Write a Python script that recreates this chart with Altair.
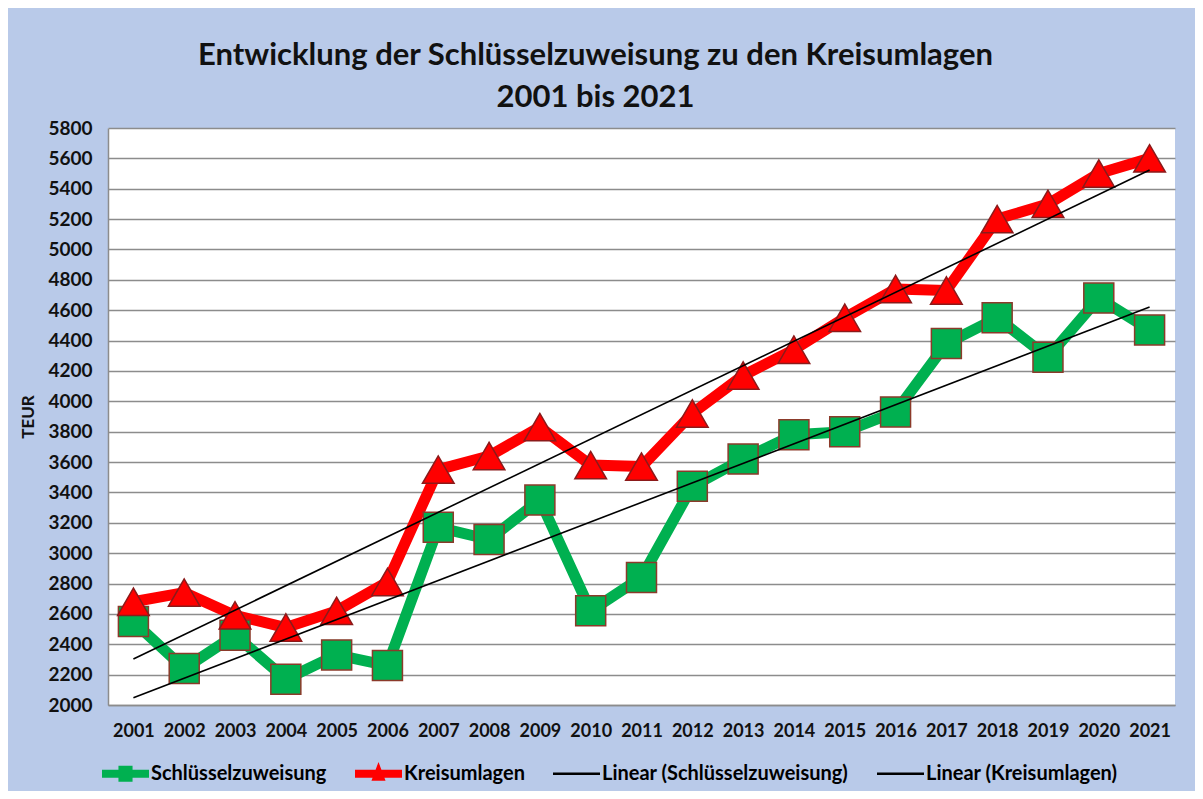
import altair as alt
import pandas as pd

years = list(range(2001, 2022))
schluesselzuweisung = [2550, 2240, 2460, 2170, 2330, 2260, 3170, 3090, 3350, 2620, 2840,
                       3440, 3620, 3780, 3800, 3930, 4380, 4550, 4290, 4680, 4470]
kreisumlagen = [2680, 2740, 2590, 2510, 2620, 2810, 3550, 3640, 3830, 3580, 3570,
                3920, 4170, 4340, 4550, 4740, 4730, 5200, 5300, 5500, 5600]

series_names = ["Schlüsselzuweisung", "Kreisumlagen",
                "Linear (Schlüsselzuweisung)", "Linear (Kreisumlagen)"]
series_colors = ["#00b050", "#ff0000", "#000000", "#000000"]
legend_shapes = [
    "M-1,-0.17H-0.3V-0.34H0.3V-0.17H1V0.17H0.3V0.34H-0.3V0.17H-1Z",
    "M-1,-0.17H1V0.17H-1Z M0,-0.5L0.3,0.3H-0.3Z",
    "M-1,-0.05H1V0.05H-1Z",
    "M-1,-0.05H1V0.05H-1Z",
]
y_ticks = list(range(2000, 5801, 200))

rows = []
for y, s, k in zip(years, schluesselzuweisung, kreisumlagen):
    rows.append({"year": y, "value": s, "series": "Schlüsselzuweisung"})
    rows.append({"year": y, "value": k, "series": "Kreisumlagen"})
df = pd.DataFrame(rows)

FONT = "Lato"

legend_props = dict(
    orient="none", legendX=-6, legendY=622, direction="horizontal",
    title=None, labelFont=FONT, labelFontWeight="bold", labelFontSize=20,
    labelColor="#000000", labelLimit=500, symbolSize=2209, labelOffset=2,
    columnPadding=28, symbolStrokeWidth=0, symbolOpacity=1,
)
color_scale = alt.Scale(domain=series_names, range=series_colors)

x = alt.X(
    "year:Q",
    scale=alt.Scale(domain=[2000.5, 2021.5], nice=False, zero=False),
    axis=alt.Axis(values=years, format="d", title=None, grid=False, ticks=False,
                  domainColor="#8c8c8c", domainWidth=1.5, labelPadding=17,
                  labelFont=FONT, labelFontWeight="bold", labelFontSize=18,
                  labelColor="#111111"),
)
y = alt.Y(
    "value:Q",
    scale=alt.Scale(domain=[2000, 5800], nice=False, zero=False),
    axis=alt.Axis(values=y_ticks, format="d", title="TEUR", grid=True, gridColor="#8c8c8c",
                  gridWidth=1.5, ticks=False, domainColor="#8c8c8c", domainWidth=1.5,
                  labelPadding=16, labelFont=FONT, labelFontWeight="bold",
                  labelFontSize=19, labelColor="#111111",
                  titleFont=FONT, titleFontWeight="bold", titleFontSize=17,
                  titleColor="#111111", titlePadding=10),
)

color_noleg = alt.Color("series:N", scale=color_scale, legend=None)

base = alt.Chart(df)

# invisible layer that only carries the legend (listed first so its legend wins)
legend_layer = base.mark_point(filled=True, opacity=0).encode(
    x=x, y=y,
    color=alt.Color("series:N", scale=color_scale, legend=alt.Legend(**legend_props)),
    shape=alt.Shape("series:N", scale=alt.Scale(domain=series_names, range=legend_shapes),
                    legend=alt.Legend(**legend_props)),
)

lines = base.mark_line(strokeWidth=11, strokeJoin="round").encode(
    x=x, y=y, color=color_noleg, detail="series:N"
)

squares = base.transform_filter(
    alt.datum.series == "Schlüsselzuweisung"
).mark_point(shape="square", filled=True, opacity=1, size=900,
             stroke="#8b3a2a", strokeWidth=1.5).encode(x=x, y=y, color=color_noleg)

triangles = base.transform_filter(
    alt.datum.series == "Kreisumlagen"
).mark_point(shape="triangle-up", filled=True, opacity=1, size=1000,
             stroke="#8b1a1a", strokeWidth=1.5).encode(x=x, y=y, color=color_noleg)

trends = base.transform_regression(
    "year", "value", groupby=["series"], extent=[2001, 2021]
).transform_calculate(
    series="'Linear (' + datum.series + ')'"
).mark_line(strokeWidth=1.6).encode(
    x=x, y=y, color=color_noleg
)

chart = alt.layer(legend_layer, lines, squares, triangles, trends).properties(
    width=1067, height=577,
    autosize=alt.AutoSizeParams(type="none"),
    padding={"left": 100, "top": 120, "right": 20, "bottom": 86},
    background="#b9cae9",
    title=alt.TitleParams(
        ["Entwicklung der Schlüsselzuweisung zu den Kreisumlagen", "2001 bis 2021"],
        font=FONT, fontWeight="bold", fontSize=31, lineHeight=42,
        color="#111111", anchor="middle", dx=-46, offset=5,
    ),
).configure_view(stroke=None, fill="#ffffff")

chart.save("out.html", embed_options={"renderer": "svg", "actions": False})
